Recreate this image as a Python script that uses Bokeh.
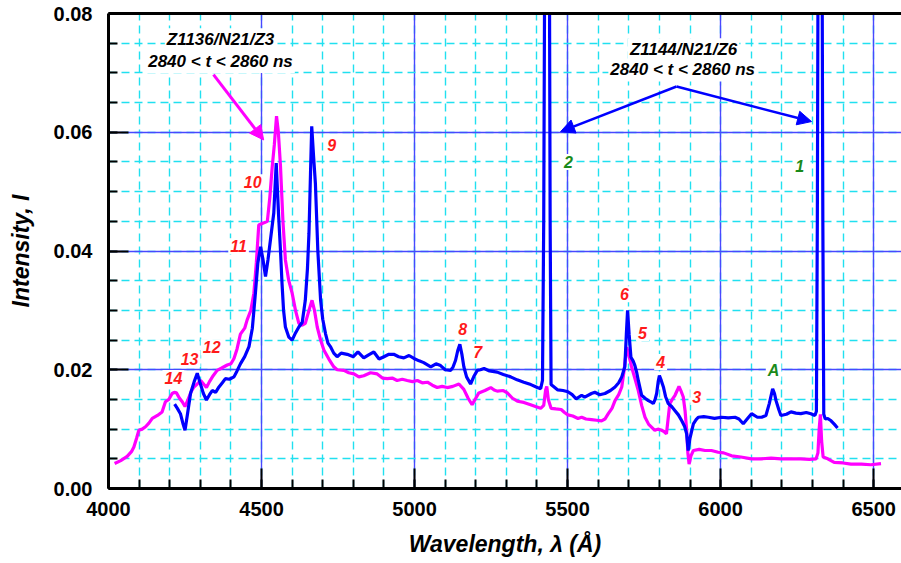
from bokeh.plotting import figure
from bokeh.models import (Range1d, LinearAxis, Label, Arrow, NormalHead,
                          SingleIntervalTicker, FixedTicker, NumeralTickFormatter)
from bokeh.embed import file_html
from bokeh.resources import INLINE

# ---------------- data ----------------
z1136_wl = [4020, 4040, 4061, 4075, 4083, 4092, 4099, 4110, 4121, 4132, 4143, 4160, 4175, 4186,
            4197, 4208, 4215, 4222, 4232, 4241, 4250, 4260, 4270, 4279, 4290, 4301, 4312, 4320,
            4330, 4342, 4355, 4370, 4388, 4400, 4410, 4420, 4431, 4445, 4453, 4465, 4475, 4483,
            4491, 4500, 4510, 4519, 4527, 4535, 4542, 4549, 4555, 4562, 4570, 4578, 4589, 4600,
            4611, 4622, 4633, 4643, 4655, 4665, 4673, 4682, 4693, 4704, 4720, 4736, 4747, 4769,
            4785, 4802, 4818, 4834, 4856, 4878, 4895, 4911, 4927, 4943, 4960, 4976, 4993, 5009,
            5025, 5042, 5058, 5074, 5090, 5107, 5125, 5145, 5161, 5175, 5188, 5200, 5210, 5230,
            5249, 5260, 5270, 5290, 5303, 5320, 5336, 5357, 5379, 5395, 5412, 5422, 5428, 5432,
            5437, 5446, 5462, 5479, 5490, 5501, 5517, 5534, 5546, 5560, 5578, 5595, 5611, 5622,
            5633, 5645, 5655, 5667, 5677, 5685, 5693, 5700, 5709, 5720, 5731, 5742, 5753, 5765,
            5785, 5795, 5807, 5815, 5823, 5829, 5834, 5842, 5851, 5858, 5864, 5870, 5878, 5884,
            5889, 5893, 5897, 5903, 5911, 5930, 5949, 5970, 5992, 6010, 6036, 6066, 6101, 6132,
            6165, 6197, 6230, 6262, 6290, 6312, 6318, 6322, 6326, 6330, 6335, 6350, 6371, 6400,
            6426, 6460, 6491, 6524]
z1136_int = [0.0042, 0.0047, 0.0054, 0.0062, 0.0070, 0.0085, 0.0098, 0.0100, 0.0104, 0.0110,
             0.0118, 0.0123, 0.0129, 0.0146, 0.0150, 0.0160, 0.0162, 0.0161, 0.0152, 0.0146,
             0.0138, 0.0150, 0.0163, 0.0171, 0.0176, 0.0182, 0.0175, 0.0170, 0.0180, 0.0190,
             0.0199, 0.0203, 0.0208, 0.0210, 0.0219, 0.0235, 0.0260, 0.0270, 0.0284, 0.0300,
             0.0329, 0.0380, 0.0444, 0.0446, 0.0448, 0.0450, 0.0490, 0.0542, 0.0580, 0.0627,
             0.0600, 0.0542, 0.0450, 0.0385, 0.0350, 0.0329, 0.0300, 0.0278, 0.0275, 0.0278,
             0.0300, 0.0317, 0.0300, 0.0272, 0.0250, 0.0233, 0.0218, 0.0205, 0.0200, 0.0199,
             0.0195, 0.0193, 0.0188, 0.0190, 0.0195, 0.0193, 0.0186, 0.0185, 0.0186, 0.0182,
             0.0184, 0.0182, 0.0180, 0.0182, 0.0178, 0.0179, 0.0174, 0.0170, 0.0172, 0.0170,
             0.0172, 0.0176, 0.0167, 0.0152, 0.0141, 0.0152, 0.0161, 0.0165, 0.0170, 0.0166,
             0.0164, 0.0165, 0.0161, 0.0152, 0.0147, 0.0145, 0.0141, 0.0138, 0.0135, 0.0140,
             0.0165, 0.0172, 0.0150, 0.0135, 0.0134, 0.0133, 0.0128, 0.0124, 0.0122, 0.0118,
             0.0120, 0.0117, 0.0116, 0.0115, 0.0114, 0.0117, 0.0126, 0.0135, 0.0148, 0.0158,
             0.0171, 0.0200, 0.0238, 0.0225, 0.0205, 0.0185, 0.0165, 0.0140, 0.0120, 0.0108,
             0.0098, 0.0100, 0.0098, 0.0096, 0.0092, 0.0120, 0.0143, 0.0150, 0.0157, 0.0165,
             0.0172, 0.0165, 0.0154, 0.0130, 0.0098, 0.0060, 0.0041, 0.0055, 0.0064, 0.0066,
             0.0064, 0.0064, 0.0061, 0.0060, 0.0055, 0.0053, 0.0050, 0.0050, 0.0051, 0.0050,
             0.0050, 0.0050, 0.0049, 0.0050, 0.0060, 0.0100, 0.0125, 0.0080, 0.0053, 0.0050,
             0.0044, 0.0043, 0.0041, 0.0041, 0.0040, 0.0042]

z1144_wl = [4216, 4225, 4235, 4243, 4250, 4258, 4268, 4280, 4290, 4298, 4310, 4320, 4330, 4339,
            4350, 4361, 4372, 4382, 4395, 4410, 4420, 4431, 4445, 4459, 4470, 4480, 4488, 4497,
            4505, 4513, 4521, 4529, 4540, 4548, 4556, 4562, 4567, 4572, 4578, 4589, 4600, 4611,
            4622, 4633, 4643, 4650, 4655, 4660, 4664, 4670, 4676, 4684, 4693, 4700, 4709, 4717,
            4725, 4736, 4747, 4760, 4780, 4800, 4815, 4834, 4850, 4867, 4884, 4900, 4916, 4932,
            4948, 4965, 4982, 4998, 5015, 5030, 5053, 5070, 5085, 5100, 5118, 5126, 5134, 5141,
            5148, 5155, 5161, 5170, 5183, 5195, 5205, 5215, 5227, 5245, 5270, 5290, 5314, 5335,
            5357, 5380, 5401, 5412, 5418, 5422, 5426, 5440, 5443, 5446, 5468, 5485, 5501, 5515,
            5528, 5546, 5556, 5578, 5589, 5605, 5622, 5640, 5655, 5667, 5677, 5687, 5692, 5696,
            5701, 5707, 5714, 5720, 5726, 5731, 5742, 5753, 5764, 5775, 5780, 5786, 5791, 5796,
            5800, 5806, 5813, 5820, 5829, 5840, 5851, 5862, 5873, 5882, 5889, 5894, 5900, 5911,
            5920, 5927, 5945, 5960, 5980, 6003, 6025, 6047, 6060, 6074, 6088, 6101, 6120, 6134,
            6148, 6159, 6170, 6176, 6181, 6190, 6197, 6215, 6230, 6246, 6262, 6280, 6295, 6308,
            6313, 6316, 6319, 6331, 6334, 6337, 6342, 6350, 6361, 6372, 6382]
z1144_int = [0.0142, 0.0135, 0.0126, 0.0110, 0.0098, 0.0125, 0.0160, 0.0180, 0.0194, 0.0180,
             0.0160, 0.0149, 0.0158, 0.0165, 0.0162, 0.0171, 0.0178, 0.0185, 0.0184, 0.0188,
             0.0198, 0.0210, 0.0222, 0.0239, 0.0270, 0.0329, 0.0380, 0.0407, 0.0385, 0.0357,
             0.0385, 0.0418, 0.0464, 0.0548, 0.0458, 0.0400, 0.0345, 0.0300, 0.0272, 0.0255,
             0.0250, 0.0262, 0.0272, 0.0280, 0.0317, 0.0370, 0.0430, 0.0530, 0.0610, 0.0560,
             0.0514, 0.0400, 0.0317, 0.0285, 0.0261, 0.0245, 0.0239, 0.0228, 0.0222, 0.0228,
             0.0226, 0.0222, 0.0230, 0.0220, 0.0225, 0.0230, 0.0218, 0.0222, 0.0226, 0.0226,
             0.0222, 0.0220, 0.0224, 0.0219, 0.0215, 0.0212, 0.0205, 0.0210, 0.0207, 0.0200,
             0.0199, 0.0205, 0.0216, 0.0232, 0.0243, 0.0225, 0.0205, 0.0188, 0.0176, 0.0190,
             0.0199, 0.0200, 0.0202, 0.0198, 0.0196, 0.0192, 0.0188, 0.0183, 0.0179, 0.0175,
             0.0170, 0.0168, 0.0182, 0.0450, 0.1000, 0.1000, 0.0450, 0.0175, 0.0166, 0.0165,
             0.0163, 0.0158, 0.0151, 0.0157, 0.0154, 0.0160, 0.0162, 0.0158, 0.0160, 0.0165,
             0.0171, 0.0178, 0.0188, 0.0205, 0.0260, 0.0300, 0.0260, 0.0221, 0.0215, 0.0207,
             0.0195, 0.0182, 0.0157, 0.0152, 0.0148, 0.0145, 0.0143, 0.0150, 0.0160, 0.0180,
             0.0190, 0.0182, 0.0171, 0.0155, 0.0143, 0.0138, 0.0131, 0.0124, 0.0114, 0.0105,
             0.0092, 0.0064, 0.0085, 0.0109, 0.0116, 0.0120, 0.0121, 0.0120, 0.0118, 0.0120,
             0.0119, 0.0120, 0.0117, 0.0109, 0.0118, 0.0126, 0.0120, 0.0120, 0.0123, 0.0143,
             0.0168, 0.0160, 0.0148, 0.0133, 0.0123, 0.0125, 0.0129, 0.0127, 0.0126, 0.0128,
             0.0126, 0.0123, 0.0130, 0.0450, 0.1000, 0.1000, 0.0450, 0.0125, 0.0117, 0.0118,
             0.0114, 0.0108, 0.0102]

red_labels = ["14", "13", "12", "11", "10", "9", "8", "7", "6", "5", "4", "3"]
red_label_wl = [4212, 4265, 4337, 4425, 4471, 4729, 5157, 5206, 5686, 5745, 5804, 5922]
red_label_int = [0.0186, 0.0218, 0.0238, 0.0408, 0.0516, 0.0579, 0.0268, 0.0230, 0.0327,
                 0.0262, 0.0213, 0.0154]
green_labels = ["A", "2", "1"]
green_label_wl = [6173, 5503, 6258]
green_label_int = [0.0199, 0.0550, 0.0543]

# ---------------- figure ----------------
FONT = "Liberation Sans"
BLUE = "#0000ff"
MAGENTA = "#ff00ff"

p = figure(width=901, height=563, output_backend="svg", toolbar_location=None,
           x_range=Range1d(4000, 6591), y_range=Range1d(0, 0.08),
           min_border_left=108, min_border_right=0, min_border_top=13, min_border_bottom=75)
p.outline_line_color = None
p.background_fill_color = "white"
p.border_fill_color = "white"

p.xaxis.ticker = SingleIntervalTicker(interval=500, num_minor_ticks=5)
p.yaxis.ticker = SingleIntervalTicker(interval=0.02, num_minor_ticks=4)
p.xaxis.formatter = NumeralTickFormatter(format="0")
p.yaxis.formatter = NumeralTickFormatter(format="0.00")

for ax in (p.xaxis[0], p.yaxis[0]):
    ax.axis_line_width = 3
    ax.axis_line_color = "black"
    ax.major_tick_in = 20
    ax.major_tick_out = 0
    ax.minor_tick_in = 9
    ax.minor_tick_out = 0
    ax.major_tick_line_width = 2
    ax.minor_tick_line_width = 2
    ax.major_tick_line_color = "black"
    ax.minor_tick_line_color = "black"
    ax.major_label_text_font = FONT
    ax.major_label_text_font_style = "bold"
    ax.major_label_text_font_size = "20px"
    ax.major_label_text_color = "black"
    ax.axis_label_text_font = FONT
    ax.axis_label_text_font_style = "bold italic"
    ax.axis_label_text_font_size = "23px"
    ax.axis_label_text_color = "black"

p.xaxis.axis_label = "Wavelength, \u03bb (\u00c5)"
p.yaxis.axis_label = "Intensity, I"
p.xaxis.major_label_standoff = 13
p.yaxis.major_label_standoff = 16
p.xaxis.axis_label_standoff = 12
p.yaxis.axis_label_standoff = 17

top = LinearAxis(ticker=FixedTicker(ticks=[]), axis_line_width=3, axis_line_color="black",
                 major_label_text_font_size="0px")
p.add_layout(top, "above")

p.xgrid.grid_line_color = "#4848ff"
p.ygrid.grid_line_color = "#4848ff"
p.xgrid.grid_line_width = 1.4
p.ygrid.grid_line_width = 1.4
for g in (p.xgrid[0], p.ygrid[0]):
    g.minor_grid_line_color = "#20e0f0"
    g.minor_grid_line_width = 1.4
    g.minor_grid_line_dash = "8 5"

# ---------------- curves ----------------
p.line(z1136_wl, z1136_int, line_color=MAGENTA, line_width=3.2)
p.line(z1144_wl, z1144_int, line_color=BLUE, line_width=3.2)

# ---------------- annotations ----------------
def add_label(txt, x, y, color, size="16px", bg="white"):
    p.add_layout(Label(x=x, y=y, text=txt, text_color=color, text_font=FONT,
                       text_font_style="bold italic", text_font_size=size,
                       text_align="center", text_baseline="middle",
                       background_fill_color=bg, background_fill_alpha=1.0 if bg else 0,
                       padding=2))

for t, x, y in zip(red_labels, red_label_wl, red_label_int):
    add_label(t, x, y, "#ff1a1a")
for t, x, y in zip(green_labels, green_label_wl, green_label_int):
    add_label(t, x, y, "#1a8a1a")

add_label("Z1136/N21/Z3", 4366, 0.0756, "black", size="17px")
add_label("2840 < t < 2860 ns", 4366, 0.0719, "black", size="17px")
add_label("Z1144/N21/Z6", 5879, 0.0739, "black", size="17px")
add_label("2840 < t < 2860 ns", 5876, 0.0705, "black", size="17px")

p.add_layout(Arrow(x_start=4343, y_start=0.0697, x_end=4507, y_end=0.0587,
                   line_color=MAGENTA, line_width=3,
                   end=NormalHead(size=14, fill_color=MAGENTA, line_color=MAGENTA)))
p.add_layout(Arrow(x_start=5856, y_start=0.0677, x_end=5477, y_end=0.0601,
                   line_color=BLUE, line_width=2.5,
                   end=NormalHead(size=14, fill_color=BLUE, line_color=BLUE)))
p.add_layout(Arrow(x_start=5856, y_start=0.0677, x_end=6297, y_end=0.0618,
                   line_color=BLUE, line_width=2.5,
                   end=NormalHead(size=14, fill_color=BLUE, line_color=BLUE)))

open("out.html", "w").write(file_html(p, INLINE))
